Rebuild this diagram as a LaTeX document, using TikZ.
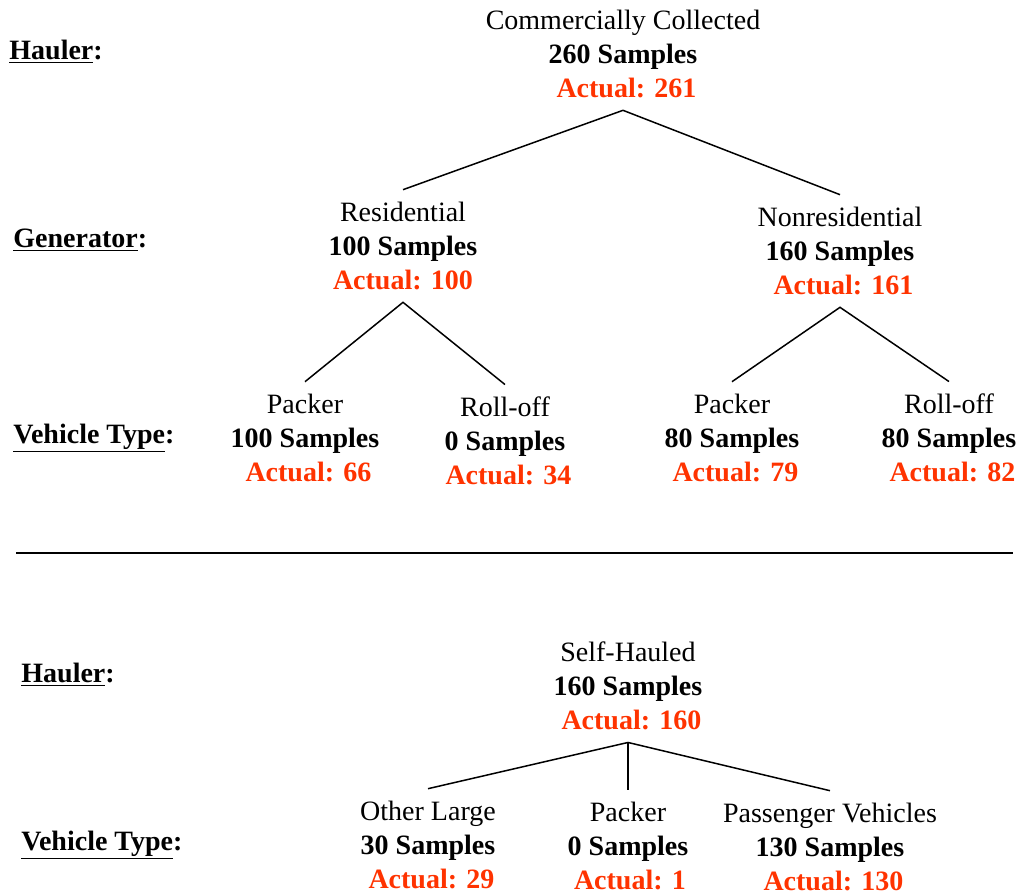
\documentclass[tikz,border=0pt]{standalone}
\usepackage{fontspec}
\setmainfont{Liberation Serif}
\definecolor{actualred}{HTML}{FF3300}
\newcommand{\tally}[4][3.5pt]{#2\\\textbf{#3 Samples}\\\hspace*{#1}\textcolor{actualred}{\textbf{Actual: #4}}}
\tikzset{
  every node/.style={font=\fontsize{14}{17}\selectfont},
  group/.style={align=center, inner xsep=0pt, inner ysep=6pt},
  level/.style={anchor=base west, inner sep=0pt, font=\fontsize{14}{17}\selectfont\bfseries},
  branch/.style={line width=0.75pt},
}
\begin{document}
\begin{tikzpicture}[x=0.5pt, y=-0.5pt]
    \useasboundingbox (0,0) rectangle (1019,895);

    % level labels
    \node[level] (hauler1) at (9,59) {\underline{Hauler}:};
    \node[level] (gen1) at (13,247) {\underline{Generator}:};
    \node[level] (veh1) at (13,443) {\underline{Vehicle Type}:};
    \node[level] (hauler2) at (21,682) {\underline{Hauler}:};
    \node[level] (veh2) at (21,850) {\underline{Vehicle Type}:};

    % commercially collected tree
    \node[group] (cc) at (623,54) {\tally{Commercially Collected}{260}{261}};
    \node[group] (res) at (403,246) {\tally[0pt]{Residential}{100}{100}};
    \node[group] (nonres) at (840,251) {\tally{Nonresidential}{160}{161}};
    \node[group] (respack) at (305,438) {\tally{Packer}{100}{66}};
    \node[group] (resroll) at (505,441) {\tally{Roll-off}{0}{34}};
    \node[group] (nrpack) at (732,438) {\tally{Packer}{80}{79}};
    \node[group] (nrroll) at (949,438) {\tally{Roll-off}{80}{82}};

    \draw[branch] (res.north) -- (cc.south) -- (nonres.north);
    \draw[branch] (respack.north) -- (res.south) -- (resroll.north);
    \draw[branch] (nrpack.north) -- (nonres.south) -- (nrroll.north);

    % separator
    \coordinate (sepL) at (16,553);
    \coordinate (sepR) at (1013,553);
    \draw[branch] (sepL) -- (sepR);

    % self-hauled tree
    \node[group] (sh) at (628,686) {\tally{Self-Hauled}{160}{160}};
    \node[group] (shother) at (428,845) {\tally{Other Large}{30}{29}};
    \node[group] (shpack) at (628,846) {\tally[2pt]{Packer}{0}{1}};
    \node[group] (shpass) at (830,847) {\tally{Passenger Vehicles}{130}{130}};

    \draw[branch] (shother.north) -- (sh.south) -- (shpass.north);
    \draw[branch] (sh.south) -- (shpack.north);
\end{tikzpicture}
\end{document}
